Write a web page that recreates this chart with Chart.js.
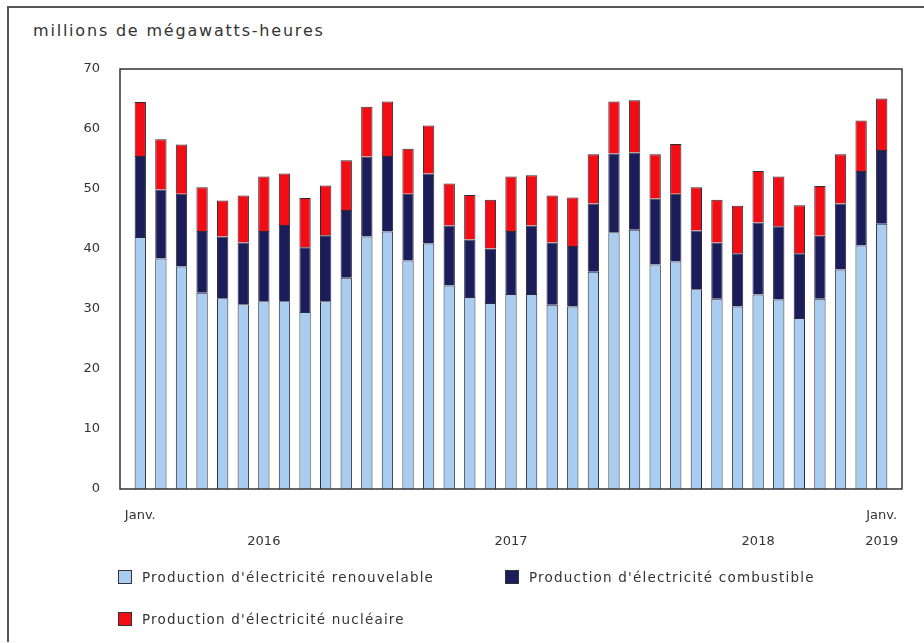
<!DOCTYPE html>
<html lang="fr">

<head>
    <meta charset="UTF-8">
    <title>Production d'électricité</title>
    <style>
        body {
            margin: 0;
            padding: 0;
            background-color: #ffffff;
            font-family: 'DejaVu Sans', sans-serif;
            color: #333;
        }

        .wrap {
            position: relative;
            width: 924px;
            height: 643px;
            overflow: hidden;
        }

        .frame {
            position: absolute;
            left: 7px;
            top: 6px;
            width: 930px;
            height: 634px;
            border-left: 2px solid #555;
            border-top: 2px solid #555;
        }

        .title {
            position: absolute;
            left: 33px;
            top: 21px;
            font-size: 16px;
            letter-spacing: 1.8px;
            color: #333;
        }

        canvas {
            position: absolute;
            left: 0;
            top: 0;
        }

        .legend {
            position: absolute;
            font-size: 13.5px;
            letter-spacing: 1.2px;
            color: #333;
            display: flex;
            align-items: center;
        }

        .legend i {
            display: inline-block;
            width: 12px;
            height: 12px;
            border: 1px solid #333;
            margin-right: 10px;
        }
    </style>
</head>

<body>
    <div class="wrap">
        <div class="frame"></div>
        <div class="title">millions de mégawatts-heures</div>
        <canvas id="elecChart" width="924" height="643"></canvas>
        <div id="legend"></div>
    </div>

    <script src="https://cdn.jsdelivr.net/npm/chart.js"></script>
    <script>
        // months, janv. 2016 to janv. 2019
        const categories = [
            'janv. 2016', 'févr. 2016', 'mars 2016', 'avr. 2016', 'mai 2016', 'juin 2016',
            'juil. 2016', 'août 2016', 'sept. 2016', 'oct. 2016', 'nov. 2016', 'déc. 2016',
            'janv. 2017', 'févr. 2017', 'mars 2017', 'avr. 2017', 'mai 2017', 'juin 2017',
            'juil. 2017', 'août 2017', 'sept. 2017', 'oct. 2017', 'nov. 2017', 'déc. 2017',
            'janv. 2018', 'févr. 2018', 'mars 2018', 'avr. 2018', 'mai 2018', 'juin 2018',
            'juil. 2018', 'août 2018', 'sept. 2018', 'oct. 2018', 'nov. 2018', 'déc. 2018',
            'janv. 2019'
        ];

        // millions de MWh
        const renouvelable = [
            42.0, 38.4, 37.1, 32.7, 31.8, 30.8, 31.3, 31.3, 29.5, 31.3, 35.2, 42.1,
            42.9, 38.1, 40.9, 33.9, 32.0, 31.0, 32.5, 32.5, 30.7, 30.4, 36.2, 42.8,
            43.2, 37.4, 37.9, 33.3, 31.7, 30.4, 32.4, 31.6, 28.5, 31.7, 36.6, 40.6,
            44.2
        ];
        const combustible = [
            13.5, 11.5, 12.1, 10.3, 10.3, 10.3, 11.7, 12.7, 10.8, 11.0, 11.3, 13.3,
            12.6, 11.1, 11.7, 10.0, 9.6, 9.1, 10.5, 11.4, 10.4, 10.1, 11.4, 13.1,
            12.9, 11.0, 11.3, 9.8, 9.4, 8.9, 12.0, 12.2, 10.8, 10.5, 11.0, 12.4,
            12.3
        ];
        const nucleaire = [
            9.0, 8.4, 8.2, 7.3, 6.0, 7.8, 9.1, 8.6, 8.2, 8.3, 8.3, 8.3,
            9.1, 7.5, 8.0, 7.0, 7.4, 8.1, 9.1, 8.4, 7.8, 8.1, 8.2, 8.7,
            8.7, 7.4, 8.3, 7.2, 7.1, 7.9, 8.6, 8.3, 8.0, 8.3, 8.2, 8.4,
            8.6
        ];

        const seriesNames = [
            "Production d'électricité renouvelable",
            "Production d'électricité combustible",
            "Production d'électricité nucléaire"
        ];
        const seriesColors = ['#a9cdf0', '#1b1d5a', '#f20d14'];

        // x tick labels: [line 1, line 2] at the given month index
        const xTickLines = {
            0: ['Janv.', ''],
            6: ['', '2016'],
            18: ['', '2017'],
            30: ['', '2018'],
            36: ['Janv.', '2019']
        };
        const yTicks = [0, 10, 20, 30, 40, 50, 60, 70];

        // frame around the plot, a little wider than the category area
        const framePlugin = {
            id: 'plotFrame',
            afterDatasetsDraw(chart) {
                const a = chart.chartArea;
                const ctx = chart.ctx;
                ctx.save();
                ctx.strokeStyle = '#333';
                ctx.lineWidth = 1.5;
                ctx.strokeRect(a.left - 10, a.top, a.right - a.left + 20, a.bottom - a.top);
                ctx.restore();
            }
        };

        const ctx = document.getElementById('elecChart').getContext('2d');
        const elecChart = new Chart(ctx, {
            type: 'bar',
            data: {
                labels: categories,
                datasets: [renouvelable, combustible, nucleaire].map((d, i) => ({
                    label: seriesNames[i],
                    data: d,
                    backgroundColor: seriesColors[i],
                    borderColor: '#2a2a3a',
                    borderWidth: 1,
                    barPercentage: 0.55,
                    categoryPercentage: 1
                }))
            },
            options: {
                responsive: false,
                animation: false,
                layout: {
                    padding: { left: 0, right: 32, top: 69, bottom: 94 }
                },
                scales: {
                    x: {
                        stacked: true,
                        grid: { display: false, drawTicks: false },
                        border: { display: false },
                        afterFit: s => { s.height = 60; },
                        ticks: {
                            autoSkip: false,
                            maxRotation: 0,
                            padding: 14,
                            color: '#333',
                            font: { family: 'DejaVu Sans', size: 13, lineHeight: 2.0 },
                            callback: (v, i) => xTickLines[i] || ''
                        }
                    },
                    y: {
                        stacked: true,
                        min: 0,
                        max: 70,
                        afterFit: s => { s.width = 130; },
                        afterBuildTicks: s => { s.ticks = yTicks.map(v => ({ value: v })); },
                        grid: { display: false, drawTicks: false },
                        border: { display: false },
                        ticks: {
                            padding: 30,
                            color: '#333',
                            font: { family: 'DejaVu Sans', size: 13 }
                        }
                    }
                },
                plugins: {
                    legend: { display: false },
                    tooltip: { enabled: false }
                }
            },
            plugins: [framePlugin]
        });

        // legend built from the datasets
        const legendPos = [[118, 569], [505, 569], [118, 611]];
        const legendBox = document.getElementById('legend');
        elecChart.data.datasets.forEach((ds, i) => {
            const item = document.createElement('div');
            item.className = 'legend';
            item.style.left = legendPos[i][0] + 'px';
            item.style.top = legendPos[i][1] + 'px';
            item.innerHTML = '<i style="background:' + ds.backgroundColor + '"></i>' + ds.label;
            legendBox.appendChild(item);
        });
    </script>
</body>

</html>
